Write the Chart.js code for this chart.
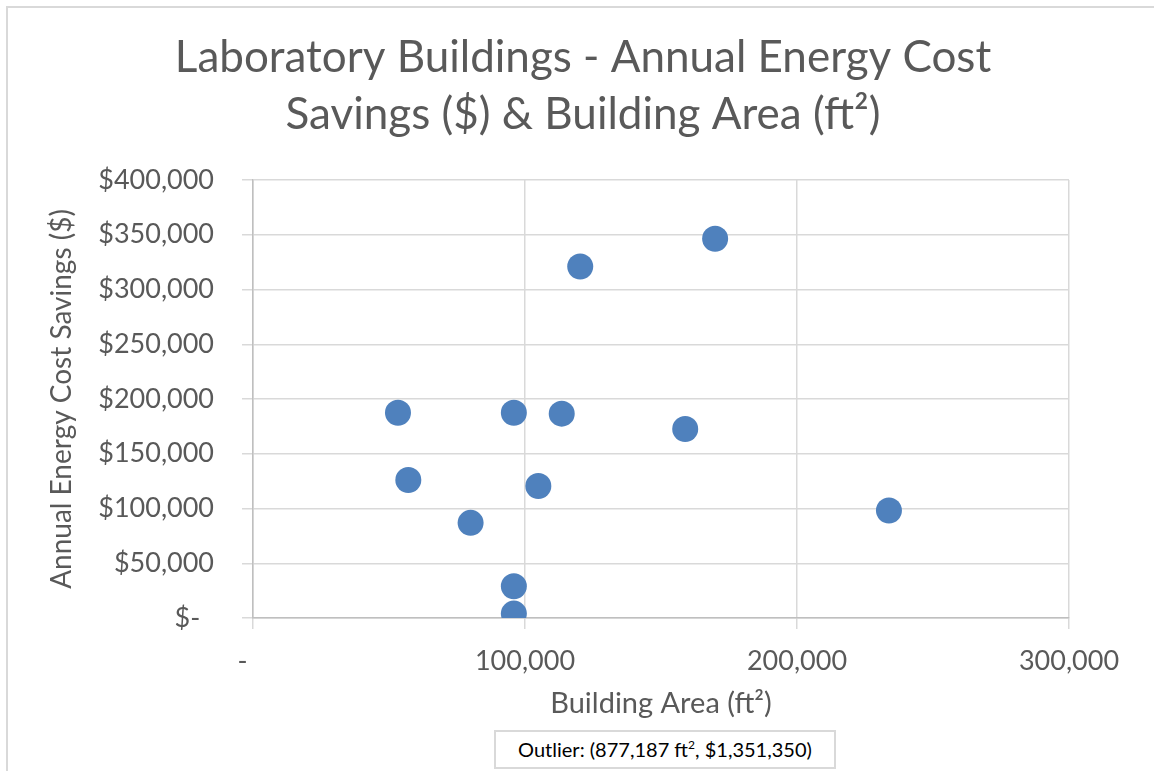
<!DOCTYPE html>
<html lang="en">
<head>
    <meta charset="UTF-8">
    <title>Laboratory Buildings - Energy Cost Savings</title>
    <style>
        body {
            margin: 0;
            padding: 0;
            background-color: #ffffff;
            font-family: Lato, sans-serif;
        }

        .wrap {
            position: relative;
            width: 1154px;
            height: 771px;
            overflow: hidden;
        }

        /* borda do gráfico (só aparece em cima e à esquerda) */
        .frame {
            position: absolute;
            left: 6px;
            top: 6px;
            width: 1170px;
            height: 790px;
            border: 2px solid #d9d9d9;
        }

        #chart {
            position: absolute;
            left: 0;
            top: 0;
        }

        .note {
            position: absolute;
            left: 494px;
            top: 730px;
            width: 338px;
            height: 35px;
            border: 2px solid #d9d9d9;
            background: #fff;
            color: #000;
            font-size: 20px;
            line-height: 35px;
            text-align: center;
        }

        .note sup {
            font-size: 12px;
            line-height: 0;
        }
    </style>
</head>
<body>
    <div class="wrap">
        <div class="frame"></div>
        <canvas id="chart" width="1154" height="771"></canvas>
        <div class="note">Outlier: (877,187 ft<sup>2</sup>, $1,351,350)</div>
    </div>

    <script src="https://cdn.jsdelivr.net/npm/chart.js"></script>
    <script>
        // dados (área em ft2, economia anual em $)
        var buildingArea = [169900, 120300, 53300, 95900, 113500, 158900, 57100, 104900, 233800, 80000, 95900, 95900];
        var costSavings = [346300, 321000, 187500, 187500, 186600, 172600, 126000, 120500, 98200, 86900, 29000, 4000];

        var xTicks = [0, 100000, 200000, 300000];
        var yTicks = [0, 50000, 100000, 150000, 200000, 250000, 300000, 350000, 400000];

        var titleLines = ['Laboratory Buildings - Annual Energy Cost', 'Savings ($) & Building Area (ft\u00b2)'];
        var xTitle = 'Building Area (ft\u00b2)';
        var yTitle = 'Annual Energy Cost Savings ($)';

        var points = [];
        for (var i = 0; i < buildingArea.length; i++) {
            points.push({ x: buildingArea[i], y: costSavings[i] });
        }

        var textColor = '#595959';
        var gridColor = '#d9d9d9';

        // título desenhado à mão: no Excel ele fica centrado no gráfico todo, não na área do Chart.js
        var titlePlugin = {
            id: 'bigTitle',
            afterDraw: function(chart) {
                var c = chart.ctx;
                c.save();
                c.fillStyle = textColor;
                c.font = '44px Lato';
                c.textAlign = 'center';
                c.textBaseline = 'middle';
                c.fillText(titleLines[0], 583, 58);
                c.fillText(titleLines[1], 583, 115);
                c.restore();
            }
        };

        var config = {
            type: 'scatter',
            data: {
                datasets: [{
                    label: 'Laboratory',
                    data: points,
                    backgroundColor: '#4f81bd',
                    borderColor: '#4f81bd',
                    borderWidth: 0,
                    pointRadius: 13,
                    pointHoverRadius: 13
                }]
            },
            options: {
                responsive: false,
                animation: false,
                layout: {
                    padding: { left: 8, right: 85, top: 180, bottom: 46 }
                },
                plugins: {
                    legend: { display: false },
                    tooltip: { enabled: false },
                    title: { display: false }
                },
                scales: {
                    x: {
                        type: 'linear',
                        min: xTicks[0],
                        max: xTicks[xTicks.length - 1],
                        afterBuildTicks: function(scale) {
                            scale.ticks = xTicks.map(function(v) { return { value: v }; });
                        },
                        afterFit: function(scale) {
                            scale.height = 107;
                        },
                        border: { color: '#bfbfbf', width: 1.5 },
                        grid: { color: gridColor, lineWidth: 1.5, tickLength: 11, tickColor: gridColor },
                        ticks: {
                            color: textColor,
                            font: { family: 'Lato', size: 27 },
                            padding: 16,
                            maxRotation: 0,
                            callback: function(v) {
                                return v === 0 ? '-   ' : v.toLocaleString('en-US');
                            }
                        },
                        title: {
                            display: true,
                            text: xTitle,
                            color: textColor,
                            font: { family: 'Lato', size: 29 },
                            padding: { top: 0, bottom: 4 }
                        }
                    },
                    y: {
                        type: 'linear',
                        min: yTicks[0],
                        max: yTicks[yTicks.length - 1],
                        afterBuildTicks: function(scale) {
                            scale.ticks = yTicks.map(function(v) { return { value: v }; });
                        },
                        afterFit: function(scale) {
                            scale.width = 245;
                        },
                        border: { color: '#bfbfbf', width: 1.5 },
                        grid: { color: gridColor, lineWidth: 1.5, tickLength: 11, tickColor: gridColor },
                        ticks: {
                            color: textColor,
                            font: { family: 'Lato', size: 27 },
                            padding: 28,
                            callback: function(v) {
                                return v === 0 ? '$-  ' : '$' + v.toLocaleString('en-US');
                            }
                        },
                        title: {
                            display: true,
                            text: yTitle,
                            color: textColor,
                            font: { family: 'Lato', size: 28 },
                            padding: { top: 37, bottom: 0 }
                        }
                    }
                }
            },
            plugins: [titlePlugin]
        };

        var ctx = document.getElementById('chart').getContext('2d');
        new Chart(ctx, config);
    </script>
</body>
</html>
